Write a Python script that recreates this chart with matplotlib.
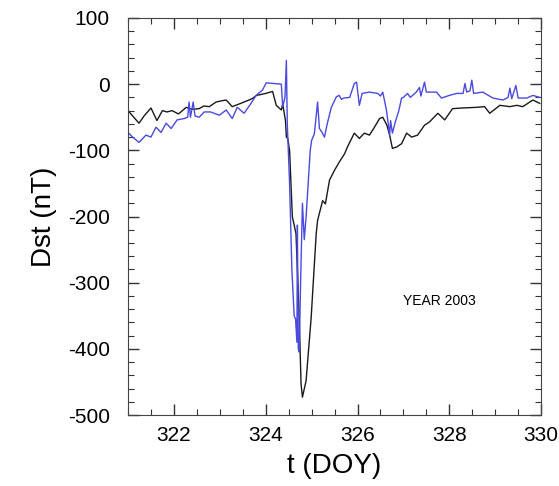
import matplotlib
matplotlib.use('Agg')
import matplotlib.pyplot as plt
from matplotlib.ticker import MultipleLocator

plt.rcParams['font.family'] = ['Liberation Sans', 'DejaVu Sans']
plt.rcParams['axes.unicode_minus'] = False

# Dst observado (negro)
t_obs = [321.0, 321.1, 321.24, 321.35, 321.5, 321.63, 321.75, 321.85, 321.96, 322.1,
         322.27, 322.4, 322.55, 322.65, 322.77, 322.92, 323.05, 323.14, 323.27, 323.42,
         323.6, 323.7, 323.8, 324.0, 324.15, 324.23, 324.34, 324.37, 324.43, 324.45,
         324.48, 324.52, 324.58, 324.66, 324.73, 324.77, 324.8, 324.88, 324.99, 325.1,
         325.13, 325.24, 325.3, 325.39, 325.5, 325.6, 325.72, 325.78, 325.93, 326.04,
         326.15, 326.26, 326.37, 326.48, 326.55, 326.64, 326.7, 326.76, 326.85, 326.96,
         327.07, 327.18, 327.31, 327.46, 327.57, 327.75, 327.9, 328.07, 328.29, 328.6,
         328.77, 328.88, 329.1, 329.32, 329.47, 329.6, 329.82, 329.97]
dst_obs = [-40, -48, -59, -48, -36, -55, -40, -42, -40, -45,
           -35, -38, -37, -33, -34, -27, -25, -24, -34, -30,
           -25, -22, -17, -14, -11, -32, -39, -30, -55, -80,
           -82, -100, -200, -226, -353, -453, -473, -448, -353, -226,
           -206, -176, -181, -145, -130, -118, -105, -95, -74, -82,
           -74, -77, -65, -52, -50, -62, -77, -97, -95, -90,
           -74, -80, -77, -62, -57, -44, -54, -37, -36, -35,
           -34, -44, -32, -34, -32, -34, -24, -29]

# Dst modelo (azul)
t_mod = [321.0, 321.1, 321.24, 321.39, 321.5, 321.61, 321.72, 321.83, 321.94, 322.07,
         322.22, 322.3, 322.33, 322.36, 322.42, 322.46, 322.55, 322.66, 322.8, 322.99,
         323.14, 323.27, 323.38, 323.53, 323.68, 323.79, 323.93, 324.01, 324.34, 324.37,
         324.42, 324.45, 324.47, 324.52, 324.57, 324.62, 324.65, 324.68, 324.69, 324.71,
         324.73, 324.76, 324.8, 324.84, 324.88, 324.93, 324.97, 325.0, 325.06, 325.13,
         325.17, 325.22, 325.28, 325.34, 325.43, 325.54, 325.6, 325.65, 325.7, 325.83,
         325.93, 325.98, 326.04, 326.1, 326.26, 326.44, 326.5, 326.55, 326.63, 326.7,
         326.72, 326.76, 326.82, 326.9, 326.96, 327.0, 327.09, 327.15, 327.28, 327.35,
         327.38, 327.46, 327.5, 327.72, 327.83, 328.0, 328.16, 328.3, 328.34, 328.38,
         328.45, 328.49, 328.53, 328.73, 328.95, 329.17, 329.28, 329.32, 329.36, 329.45,
         329.5, 329.69, 329.82, 329.97]
dst_mod = [-73, -80, -88, -77, -80, -65, -73, -59, -67, -54,
           -52, -50, -27, -50, -27, -48, -50, -42, -42, -47,
           -39, -52, -35, -44, -29, -17, -9, 2, 0, -34,
           -20, 36, -60, -150, -280, -350, -355, -390, -213, -400,
           -405, -300, -180, -235, -200, -145, -100, -85, -75, -27,
           -67, -72, -80, -60, -35, -19, -17, -23, -21, -20,
           1, 3, -32, -14, -12, -14, -18, -12, -39, -77,
           -55, -74, -58, -40, -21, -20, -14, -20, -12, -5,
           -18, 3, -12, -12, -21, -17, -14, -14, 1, -12,
           -10, 6, -14, -12, -21, -24, -20, -6, -22, -2,
           -21, -21, -17, -20]

fig = plt.figure(figsize=(5.59, 4.86), dpi=100)
ax = fig.add_axes([0.229, 0.146, 0.739, 0.817])

ax.plot(t_obs, dst_obs, color='#1a1a1a', lw=1.0)
ax.plot(t_mod, dst_mod, color='#4a4ae0', lw=1.0)

ax.set_xlim(321, 330)
ax.set_ylim(-500, 100)
ax.xaxis.set_major_locator(MultipleLocator(2))
ax.xaxis.set_minor_locator(MultipleLocator(0.5))
ax.yaxis.set_major_locator(MultipleLocator(100))
ax.yaxis.set_minor_locator(MultipleLocator(20))
ax.tick_params(which='both', direction='in', top=True, right=True, colors='#333333',
               labelcolor='black', labelsize=15)
ax.tick_params(which='major', length=8, width=1)
ax.tick_params(which='minor', length=4, width=0.8)
ax.tick_params(axis='y', pad=13)
ax.tick_params(axis='x', pad=8)
for s in ax.spines.values():
    s.set_color('#444444')

ax.set_xlabel('t (DOY)', fontsize=20, labelpad=6)
ax.set_ylabel('Dst (nT)', fontsize=20, labelpad=8)
ax.text(327.0, -327, 'YEAR 2003', fontsize=10, va='center')

fig.savefig('out.png', dpi=100)
